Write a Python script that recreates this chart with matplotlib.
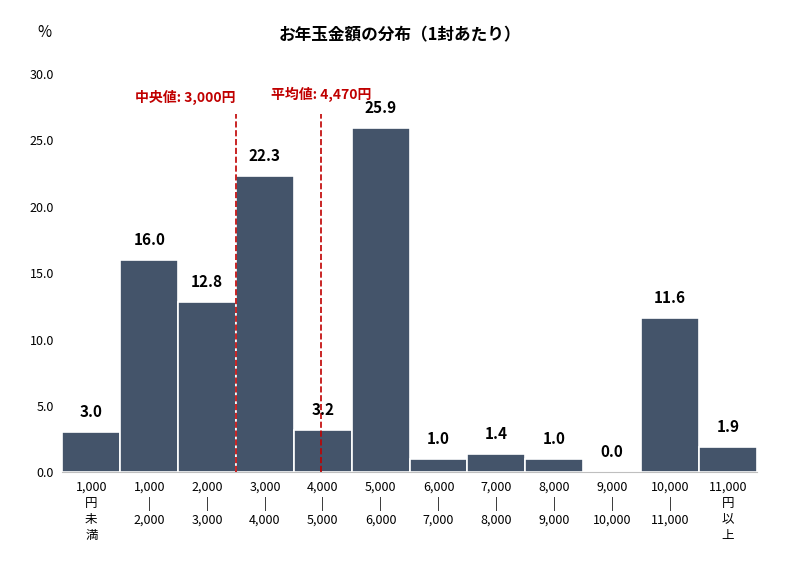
import matplotlib
matplotlib.use('Agg')
import matplotlib.pyplot as plt

plt.rcParams['font.family'] = 'Noto Sans CJK JP'

BAR_COLOR = '#44546a'
RED = '#c00000'

categories = ['1,000\n円\n未\n満', '1,000\n|\n2,000', '2,000\n|\n3,000', '3,000\n|\n4,000',
              '4,000\n|\n5,000', '5,000\n|\n6,000', '6,000\n|\n7,000', '7,000\n|\n8,000',
              '8,000\n|\n9,000', '9,000\n|\n10,000', '10,000\n|\n11,000', '11,000\n円\n以\n上']
values = [3.0, 16.0, 12.8, 22.3, 3.2, 25.9, 1.0, 1.4, 1.0, 0.0, 11.6, 1.9]
median_pos = 3.0    # 3,000円 = boundary of 4th bar
mean_pos = 4.47     # 4,470円
y_ticks = [0, 5, 10, 15, 20, 25, 30]

fig = plt.figure(figsize=(8, 5.69), dpi=100)
ax = fig.add_axes([0.078, 0.17, 0.868, 0.70])

x = [i + 0.5 for i in range(len(values))]
ax.bar(x, values, width=1.0, color=BAR_COLOR, edgecolor='white', linewidth=1.2, zorder=2)
for xi, v in zip(x, values):
    ax.text(xi, v + 0.9, f'{v:.1f}', ha='center', va='bottom', fontsize=11, fontweight='bold', zorder=4)

ax.axvline(median_pos, ymax=27.0 / 30, color=RED, linestyle='--', linewidth=1.2, zorder=3)
ax.axvline(mean_pos, ymax=27.0 / 30, color=RED, linestyle='--', linewidth=1.2, zorder=3)
ax.text(median_pos, 28.2, '中央値: 3,000円', color=RED, ha='right', va='center', fontsize=10, fontweight='bold')
ax.text(mean_pos, 28.5, '平均値: 4,470円', color=RED, ha='center', va='center', fontsize=10, fontweight='bold')

ax.set_xlim(0, len(values))
ax.set_ylim(0, 30)
ax.set_yticks(y_ticks)
ax.set_yticklabels([f'{t:.1f}' for t in y_ticks], fontsize=9)
ax.set_xticks(x)
ax.set_xticklabels(categories, fontsize=9, linespacing=1.3, va='top')
ax.tick_params(length=0, pad=6)
for s in ['top', 'right', 'left']:
    ax.spines[s].set_visible(False)
ax.spines['bottom'].set_color('#bfbfbf')

fig.text(0.055, 0.935, '%', fontsize=11, ha='center')
fig.text(0.5, 0.93, 'お年玉金額の分布（1封あたり）', fontsize=12, fontweight='bold', ha='center')

fig.savefig('out.png')
